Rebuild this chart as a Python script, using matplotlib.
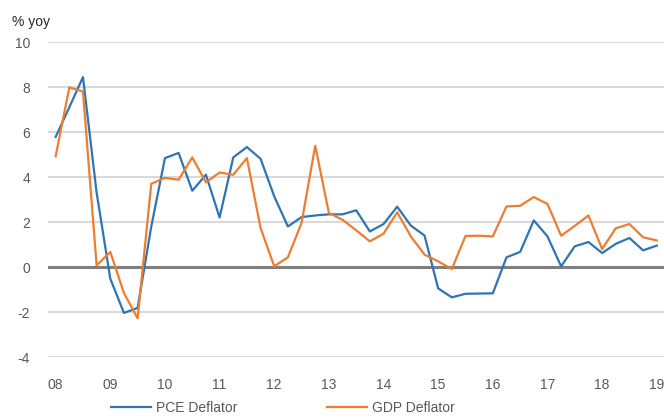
import numpy as np
import matplotlib.pyplot as plt

plt.rcParams['font.family'] = ['Liberation Sans', 'DejaVu Sans']
plt.rcParams['axes.unicode_minus'] = False

# quarterly, 2008Q1 .. 2019Q1
year_labels = ["08", "09", "10", "11", "12", "13", "14", "15", "16", "17", "18", "19"]
pce = [5.78, 7.1, 8.44, 3.3, -0.52, -2.04, -1.82, 1.8,
       4.84, 5.07, 3.39, 4.10, 2.20, 4.87, 5.33, 4.81,
       3.14, 1.80, 2.22, 2.29, 2.34, 2.34, 2.52, 1.58,
       1.91, 2.68, 1.84, 1.40, -0.95, -1.35, -1.19, -1.18,
       -1.17, 0.43, 0.67, 2.07, 1.36, 0.03, 0.92, 1.11,
       0.62, 1.03, 1.29, 0.74, 0.95]
gdp = [4.92, 7.98, 7.8, 0.07, 0.67, -1.16, -2.28, 3.70,
       3.96, 3.88, 4.87, 3.76, 4.2, 4.10, 4.84, 1.73,
       0.03, 0.43, 1.96, 5.39, 2.4, 2.1, 1.63, 1.14,
       1.48, 2.43, 1.36, 0.55, 0.25, -0.09, 1.38, 1.39,
       1.36, 2.69, 2.72, 3.11, 2.8, 1.39, 1.83, 2.29,
       0.8, 1.72, 1.91, 1.32, 1.18]

x = np.arange(len(pce))

fig = plt.figure(figsize=(6.64, 4.19), dpi=100)
ax = fig.add_axes([48 / 664, 1 - 357 / 419, 1 - 48 / 664, (357 - 42) / 419])

# gridlines
for yv in range(-4, 11, 2):
    if yv == 0:
        continue
    ax.axhline(yv, color='#d9d9d9', lw=1.5, zorder=1)
ax.axhline(0, color='#7f7f7f', lw=2.2, zorder=2)

ax.plot(x, pce, color='#2e75b6', lw=1.6, label='PCE Deflator', zorder=3)
ax.plot(x, gdp, color='#ed7d31', lw=1.6, label='GDP Deflator', zorder=3)

ax.set_xlim(-0.56, 44.53)
ax.set_ylim(-4, 10)
ax.set_yticks(range(-4, 11, 2))
ax.set_xticks(np.arange(0, 45, 4))
ax.set_xticklabels(year_labels)
ax.tick_params(axis='both', length=0, labelsize=10, colors='#595959')
ax.tick_params(axis='y', pad=13)
ax.tick_params(axis='x', pad=15)
for s in ax.spines.values():
    s.set_visible(False)
ax.set_facecolor('none')

fig.text(12 / 664, 1 - 22 / 419, '% yoy', fontsize=10, color='#262626', va='center', ha='left')

fig.legend(loc='center', bbox_to_anchor=(283 / 664, 1 - 408 / 419), ncol=2,
           frameon=False, fontsize=10, handlelength=2.9, handletextpad=0.36,
           columnspacing=6.4, labelcolor='#595959')

fig.savefig('out.png', dpi=100)
